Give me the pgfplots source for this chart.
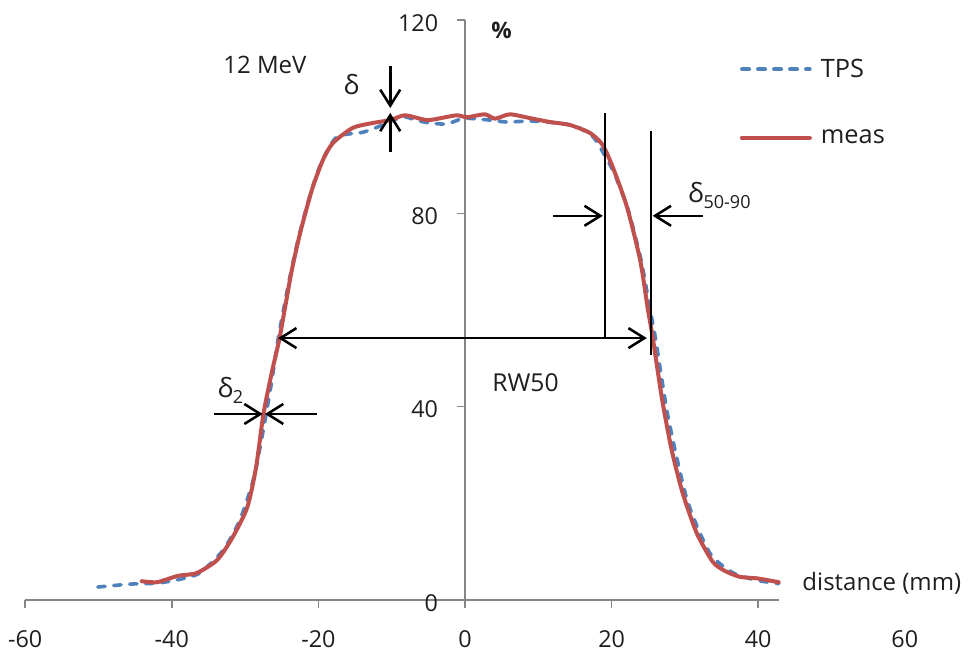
\documentclass[border=0pt]{standalone}
\usepackage{fontspec}
\setmainfont{Open Sans}
\usepackage{pgfplots}
\pgfplotsset{compat=1.18}
\usetikzlibrary{arrows.meta}
\definecolor{tpsblue}{HTML}{4F81BD}
\definecolor{measred}{HTML}{C0504D}
\definecolor{axgray}{HTML}{868686}
\definecolor{txt}{HTML}{1E1E1E}
\begin{document}
\begin{tikzpicture}[
  ann/.style={black, line width=1.9pt},
  arr/.style={black, line width=1.9pt, -{Straight Barb[length=12pt,width=15pt,line width=1.9pt]}},
  lbl/.style={inner sep=0pt, text=txt},
]
\begin{axis}[
  x=5.4975pt, y=3.625pt,
  xmin=-60, xmax=42.8, ymin=0, ymax=120,
  axis x line=bottom, axis y line=middle,
  axis line style={-, draw=axgray, line width=1.1pt},
  hide obscured x ticks=false, hide obscured y ticks=false,
  xtick={-60,-40,-20,0,20,40},
  ytick={0,40,80,120},
  tick align=outside,
  major tick length=6pt,
  tick style={draw=axgray, line width=1.1pt},
  /pgf/number format/assume math mode=true,
  tick label style={font=\fontsize{17.5}{20}\selectfont, text=txt, inner sep=0pt},
  xticklabel style={anchor=north, yshift=-17pt},
  yticklabel style={anchor=east, xshift=-14pt, yshift=-2pt},
  clip=false,
  legend style={at={(axis cs:37.5,102.95)}, anchor=west, draw=none, fill=none,
    inner sep=0pt, outer sep=0pt, font=\fontsize{19}{22}\selectfont,
    /tikz/row sep=38pt, /tikz/column sep=6.75pt, nodes={inner sep=0pt, text=txt}},
  legend cell align=left,
  legend image code/.code={\draw[#1] (0pt,0pt) -- (51pt,0pt);},
]
\addplot[tpsblue, line width=2.7pt, line cap=round, dash pattern=on 5.5pt off 6.5pt, smooth, tension=0.4] coordinates {
(-50.1,2.7) (-45.7,3.3) (-42,3.5) (-38.9,4.3) (-36.2,5.6) (-33,10.3) (-30.7,16.6)
(-28.9,24.8) (-27.7,33.7) (-26.4,45) (-25.5,54) (-24,66) (-22.7,75) (-21.1,84)
(-19.6,90.5) (-17.5,95.8) (-13.9,96.8) (-11.2,98.3) (-8.5,100) (-6.5,99.2)
(-4.8,98.7) (-2.5,98.5) (-0.3,99.7) (0.3,99.7) (3.4,99.3) (5.7,98.9) (8.9,99.1)
(12.6,98.7) (15.3,97.9) (17.5,95.8) (18.8,92.7) (20.3,88.5) (22.2,81) (24,70.5)
(25.2,60.5) (26,54) (27.7,37.9) (30.3,20.7) (33.4,9.7) (36.6,5.6) (39.8,4.1) (42.8,3.4)
};
\addlegendentry{TPS}
\addplot[measred, line width=3pt, line cap=round, line join=round, smooth, tension=0.4] coordinates {
(-44.1,3.9) (-42,3.7) (-39.2,5.0) (-36.6,5.6) (-33.8,8.3) (-31.7,13.0) (-29.7,19.2)
(-28.5,27.5) (-27.5,38.5) (-26.3,47.5) (-25.3,54.2) (-23.7,67.7) (-22.5,75.9)
(-20.9,84.8) (-19.4,91.0) (-18.0,94.6) (-15.3,97.7) (-12.6,98.7) (-10.2,99.3)
(-8.2,100.3) (-5.2,99.3) (-3,99.8) (-1.1,100.3) (0.3,99.9) (2.7,100.5) (4.1,99.6)
(6.1,100.5) (8.9,99.7) (11.6,98.9) (14.3,98.3) (17.1,96.6) (18.8,94.1) (20.2,89.4)
(22.1,81.3) (23.9,70.3) (24.9,60.6) (25.6,54.4) (26.9,41.4) (28.2,31) (29.7,22.1)
(31.6,13.9) (33.8,7.9) (35.5,6.0) (37.5,4.8) (39.8,4.5) (42.8,3.7)
};
\addlegendentry{meas}

% extra tick label beyond the axis end
\node[lbl, font=\fontsize{17.5}{20}\selectfont, anchor=north, yshift=-23pt] at (axis cs:60,0) {60};

% annotations
\draw[arr] (axis cs:-10.2,110.5) -- (axis cs:-10.2,101.8);
\draw[arr] (axis cs:-10.2,92.7) -- (axis cs:-10.2,100.8);
\node[lbl, font=\fontsize{20}{22}\selectfont, anchor=base west] at (axis cs:-16.6,104.5) {δ};

\draw[ann] (axis cs:19.1,54.4) -- (axis cs:19.1,100.8);
\draw[ann] (axis cs:25.4,50.7) -- (axis cs:25.4,97.0);
\draw[arr] (axis cs:12.0,79.5) -- (axis cs:18.8,79.5);
\draw[arr] (axis cs:32.5,79.5) -- (axis cs:25.6,79.5);
\node[lbl, font=\fontsize{20}{22}\selectfont, anchor=base west] at (axis cs:30.4,82.3)
  {δ\raisebox{-4.5pt}{\fontsize{13.5}{14}\selectfont 50-90}};

\draw[black, line width=1.9pt, {Straight Barb[length=12pt,width=15pt,line width=1.9pt]}-{Straight Barb[length=12pt,width=15pt,line width=1.9pt]}]
  (axis cs:-25.5,54.2) -- (axis cs:24.8,54.2);
\node[lbl, font=\fontsize{18.5}{20}\selectfont, anchor=west] at (axis cs:3.7,44.9) {RW50};

\draw[arr] (axis cs:-34.2,38.5) -- (axis cs:-27.6,38.5);
\draw[arr] (axis cs:-20.2,38.5) -- (axis cs:-27.3,38.5);
\node[lbl, font=\fontsize{20}{22}\selectfont, anchor=base west] at (axis cs:-33.8,42.0)
  {δ\raisebox{-4.5pt}{\fontsize{13.5}{14}\selectfont 2}};

\node[lbl, font=\fontsize{18}{20}\selectfont, anchor=base west] at (axis cs:-33.0,109.0) {12 MeV};
\node[lbl, font=\fontsize{17}{20}\selectfont\bfseries, anchor=center] at (axis cs:5.0,117.9) {\%};
\node[lbl, font=\fontsize{18}{20}\selectfont, anchor=base west] at (axis cs:46.0,1.9) {distance (mm)};

\coordinate (bbll) at (axis cs:-63.44,-12.41);
\coordinate (bbur) at (axis cs:68.62,124.15);
\end{axis}
\pgfresetboundingbox
\path (bbll) rectangle (bbur);
\end{tikzpicture}
\end{document}
